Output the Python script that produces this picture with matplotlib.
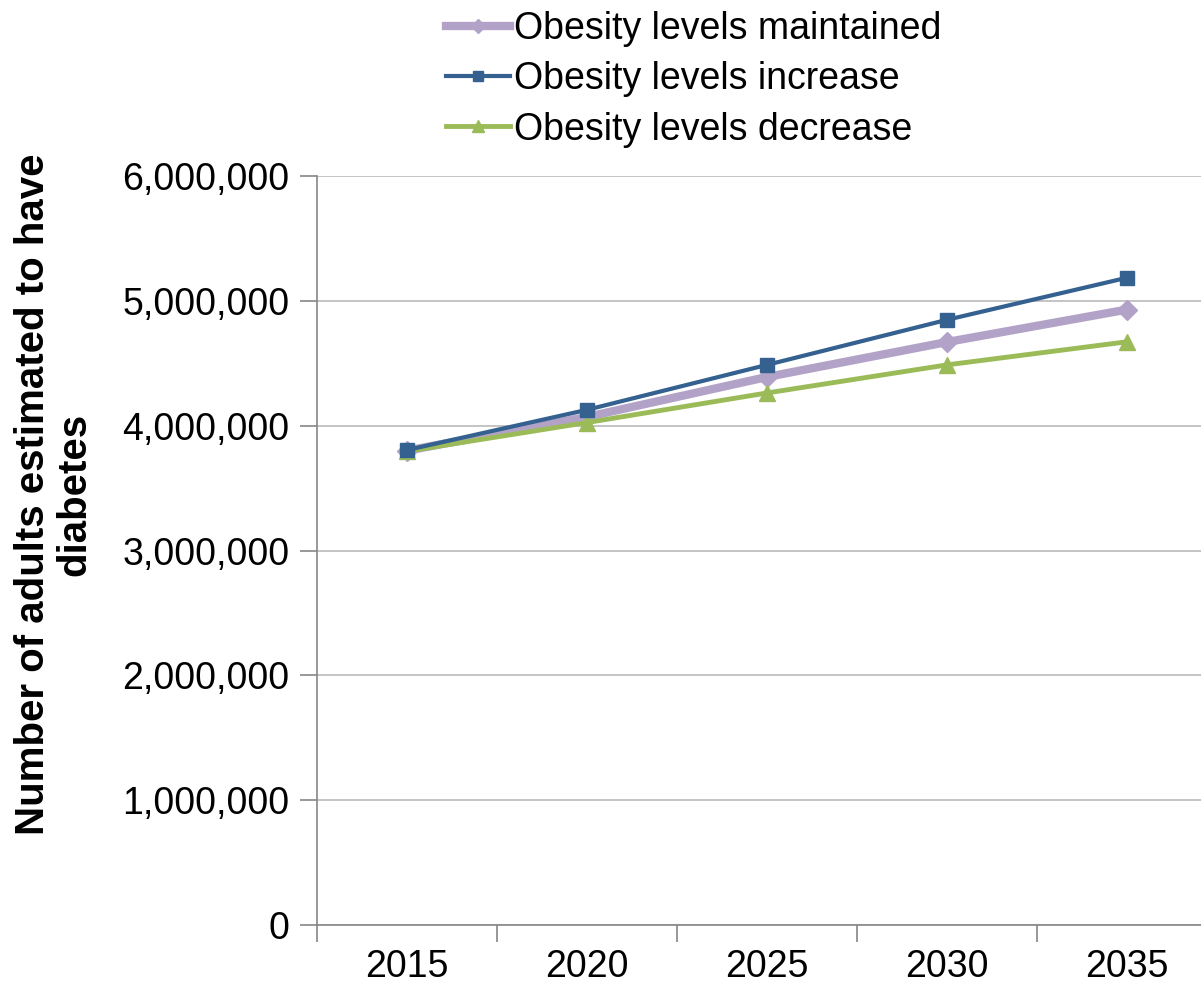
import matplotlib.pyplot as plt
from matplotlib.ticker import FuncFormatter, FixedLocator
import numpy as np

plt.rcParams['font.family'] = ['Liberation Sans', 'DejaVu Sans']

years = ['2015', '2020', '2025', '2030', '2035']
maintained = [3800000, 4070000, 4390000, 4670000, 4930000]
increase = [3805000, 4127000, 4487000, 4848000, 5185000]
decrease = [3795000, 4025000, 4262000, 4487000, 4672000]

fig = plt.figure(figsize=(12.01, 9.89), dpi=100)
ax = fig.add_axes([317 / 1201, 1 - 925 / 989, 900 / 1201, (925 - 176) / 989])

x = np.arange(len(years))
ax.plot(x, maintained, color='#B3A2C7', lw=6, marker='D', ms=10, label='Obesity levels maintained', zorder=3)
ax.plot(x, increase, color='#34618F', lw=3, marker='s', ms=10, label='Obesity levels increase', zorder=4)
ax.plot(x, decrease, color='#9BBB59', lw=3.5, marker='^', ms=11, label='Obesity levels decrease', zorder=3)

ax.set_xlim(-0.5, 4.5)
ax.set_ylim(0, 6000000)
ax.set_yticks(np.arange(0, 6000001, 1000000))
ax.yaxis.set_major_formatter(FuncFormatter(lambda v, p: f'{int(v):,}'))
ax.grid(axis='y', color='#BFBFBF', lw=1.3)
ax.set_axisbelow(True)

# category boundary ticks, labels centred on categories
ax.xaxis.set_major_locator(FixedLocator(np.arange(-0.5, 5, 1)))
ax.xaxis.set_minor_locator(FixedLocator(x))
ax.set_xticklabels([''] * 6)
ax.set_xticklabels(years, minor=True)
ax.tick_params(axis='x', which='major', length=12, width=1.2, color='#868686', direction='out')
ax.tick_params(axis='x', which='minor', length=0, pad=17, labelsize=27)
ax.tick_params(axis='y', length=12, width=1.2, color='#868686', labelsize=27, pad=8)

for s in ['top', 'right']:
    ax.spines[s].set_visible(False)
for s in ['left', 'bottom']:
    ax.spines[s].set_color('#868686')
    ax.spines[s].set_linewidth(1.2)

fig.text(54 / 1201, 0.5, 'Number of adults estimated to have\ndiabetes', rotation=90,
         ha='center', va='center', multialignment='center', fontsize=29,
         fontweight='bold', linespacing=1.1)

fig.legend(loc='upper left', bbox_to_anchor=(446 / 1201, 1 - 11 / 989), frameon=False,
           fontsize=27, handlelength=1.7, handletextpad=0.1, labelspacing=0.38,
           borderpad=0, borderaxespad=0, markerscale=0.75)

fig.savefig('out.png', dpi=100)
